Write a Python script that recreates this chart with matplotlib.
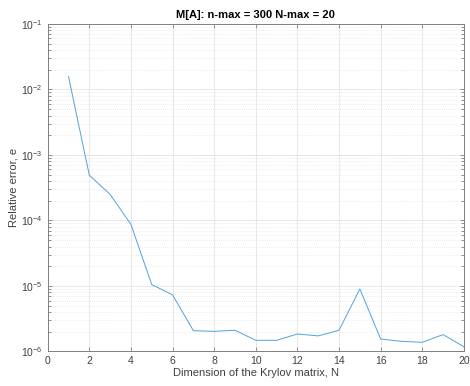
import matplotlib
matplotlib.use("Agg")
import matplotlib.pyplot as plt
from matplotlib.ticker import LogLocator, FixedLocator, NullFormatter

plt.rcParams['font.family'] = ['Liberation Sans', 'DejaVu Sans']

N = [1, 2, 3, 4, 5, 6, 7, 8, 9, 10, 11, 12, 13, 14, 15, 16, 17, 18, 19, 20]
rel_err = [1.57e-2, 4.9e-4, 2.5e-4, 8.7e-5, 1.05e-5, 7.3e-6, 2.08e-6, 2.03e-6,
           2.11e-6, 1.48e-6, 1.48e-6, 1.85e-6, 1.73e-6, 2.11e-6, 9.0e-6,
           1.55e-6, 1.43e-6, 1.38e-6, 1.81e-6, 1.18e-6]
x_ticks = [0, 2, 4, 6, 8, 10, 12, 14, 16, 18, 20]

fg = '#404040'
fig = plt.figure(figsize=(4.7, 3.86), dpi=100)
ax = fig.add_axes([0.1015, 0.0894, 0.8855, 0.8486])
ax.semilogy(N, rel_err, color='#4fa3dd', lw=0.7)
ax.set_xlim(0, 20)
ax.set_ylim(1e-6, 1e-1)
ax.xaxis.set_major_locator(FixedLocator(x_ticks))
ax.yaxis.set_major_locator(LogLocator(base=10, numticks=10))
ax.yaxis.set_minor_locator(LogLocator(base=10, subs=range(2, 10), numticks=10))
ax.yaxis.set_minor_formatter(NullFormatter())

ax.grid(True, which='major', color='#e4e4e4', lw=0.6)
ax.grid(True, which='minor', axis='y', color='#dcdcdc', lw=0.5, ls=(0, (1, 2)))
ax.set_axisbelow(True)

ax.tick_params(which='both', direction='in', top=True, right=True, colors='#808080',
               labelcolor=fg, labelsize=7.5, width=0.6)
ax.tick_params(which='major', length=3)
ax.tick_params(which='minor', length=2)
for s in ax.spines.values():
    s.set_color('#808080')
    s.set_linewidth(0.7)

ax.set_xlabel('Dimension of the Krylov matrix, N', fontsize=8, color=fg, labelpad=1)
ax.set_ylabel('Relative error, e', fontsize=8, color=fg, labelpad=2)
ax.set_title('M[A]: n-max = 300 N-max = 20', fontsize=8, fontweight='bold',
             color='black', pad=4)

fig.savefig('out.png', dpi=100, facecolor='white')
